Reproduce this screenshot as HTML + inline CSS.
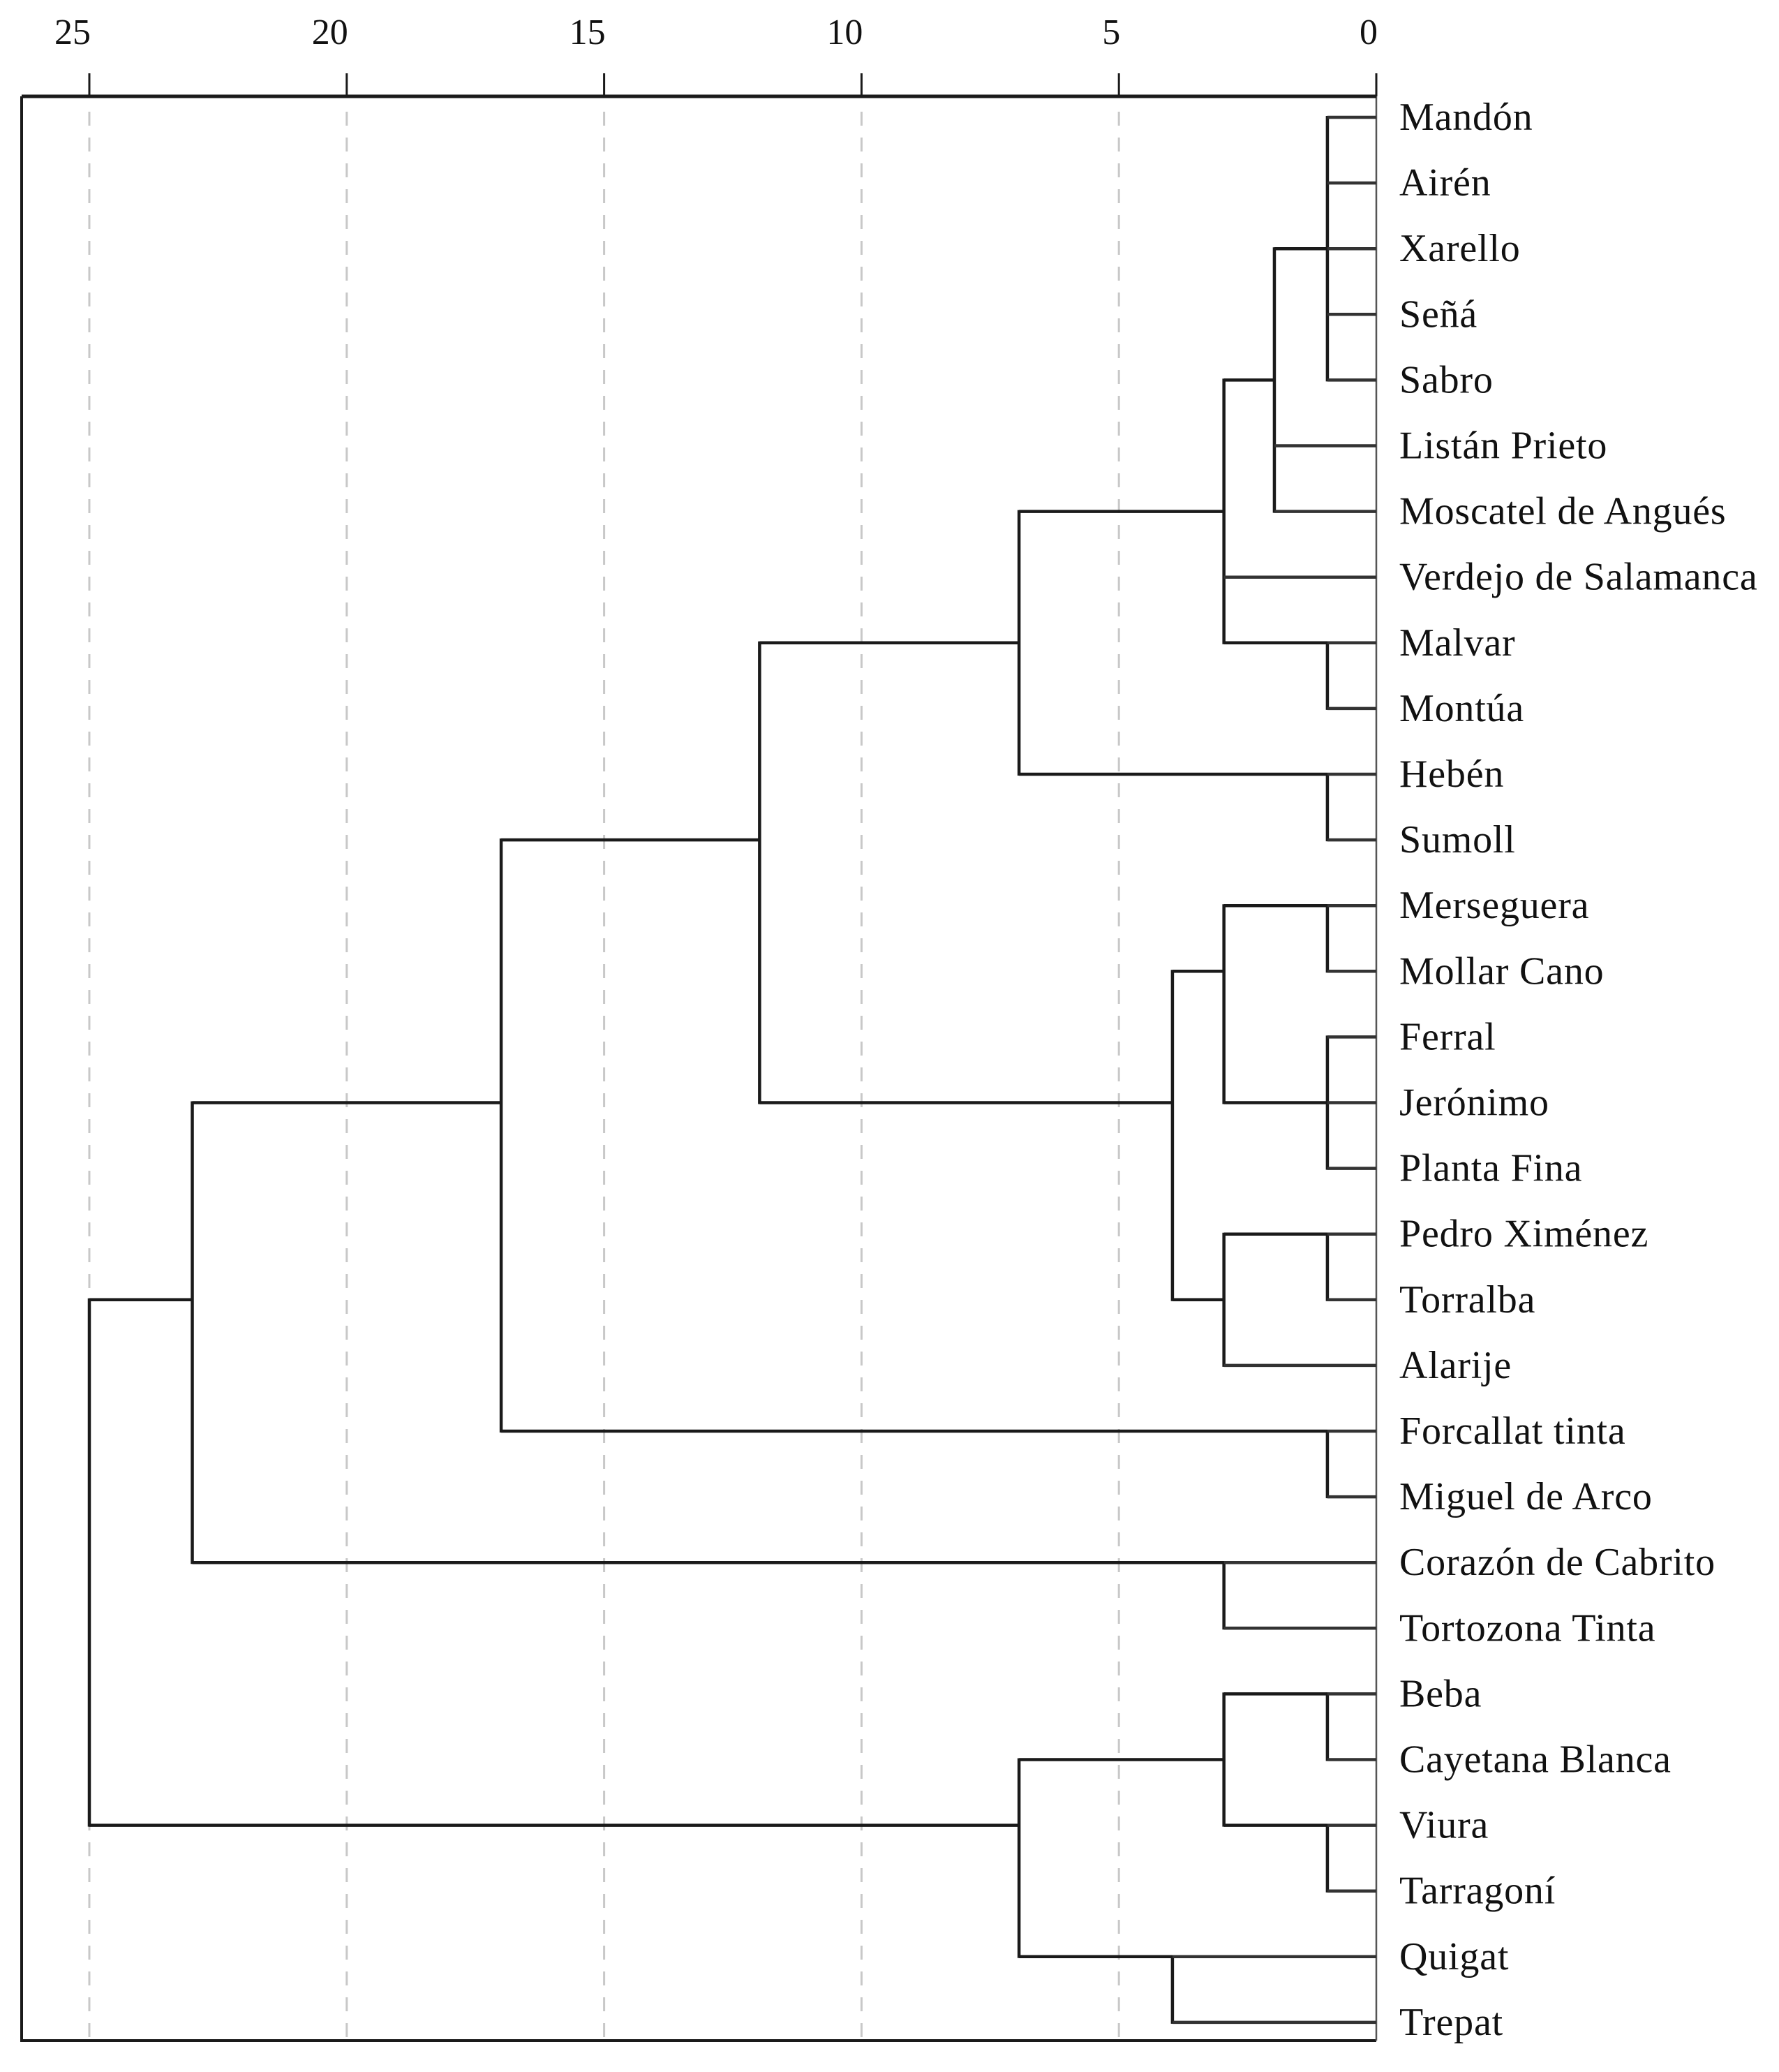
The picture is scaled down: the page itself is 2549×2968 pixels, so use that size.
<!DOCTYPE html>
<html><head><meta charset="utf-8"><style>
html,body{margin:0;padding:0;background:#fff;}
svg{display:block;}
text{font-family:"Liberation Serif",serif;fill:#111;}
</style></head><body>
<svg id="chart" width="2549" height="2968" viewBox="0 0 2549 2968" xmlns="http://www.w3.org/2000/svg"></svg>
<script>
const leaves = ["Mandón","Airén","Xarello","Señá","Sabro","Listán Prieto","Moscatel de Angués","Verdejo de Salamanca","Malvar","Montúa","Hebén","Sumoll","Merseguera","Mollar Cano","Ferral","Jerónimo","Planta Fina","Pedro Ximénez","Torralba","Alarije","Forcallat tinta","Miguel de Arco","Corazón de Cabrito","Tortozona Tinta","Beba","Cayetana Blanca","Viura","Tarragoní","Quigat","Trepat"];
const tickValues = [25,20,15,10,5,0];
// merges: children ("L#" leaf, "N#" node), height, attach row
const mergeChildren = [
 ["L0","L1","L2","L3","L4"],["N0","L5","L6"],["L8","L9"],["N1","L7","N2"],["L10","L11"],["N3","N4"],
 ["L12","L13"],["L14","L15","L16"],["N6","N7"],["L17","L18"],["N9","L19"],["N8","N10"],["N5","N11"],
 ["L20","L21"],["N12","N13"],["L22","L23"],["N14","N15"],["L24","L25"],["L26","L27"],["N17","N18"],
 ["L28","L29"],["N19","N20"],["N16","N21"]
];
const mergeHeights = [0.95,1.98,0.95,2.96,0.95,6.94,0.95,0.95,2.96,0.95,2.96,3.96,11.98,0.95,17.0,2.96,23.0,0.95,0.95,2.96,3.96,6.94,25.0];
const mergeAttach = [2,4,8,6,10,8,12,15,13,17,18,15,11,20,15,22,18,24,26,25,28,26,17];

const NS="http://www.w3.org/2000/svg";
const svg=document.getElementById('chart');
const X0=1972, UNIT=(1972-128)/25;
const xs=v=>X0-v*UNIT;
const ys=r=>168+r*94.1;
function el(tag,attrs){const e=document.createElementNS(NS,tag);for(const k in attrs)e.setAttribute(k,attrs[k]);svg.appendChild(e);return e;}

tickValues.forEach(v=>{ if(v===0) return;
  const g=el('line',{x1:xs(v),x2:xs(v),y1:160,y2:2921,stroke:'#c8c8c8','stroke-width':3,'stroke-dasharray':'20 17'});
  
  
});
let f=el('path',{d:`M31 138 L31 2923 L${X0} 2923`,fill:'none',stroke:'#1a1a1a','stroke-width':4});


let r=el('line',{x1:X0,x2:X0,y1:122,y2:2923,stroke:'#555','stroke-width':2.5});


let ax=el('line',{x1:31,x2:X0,y1:138,y2:138,stroke:'#1a1a1a','stroke-width':5});


tickValues.forEach(v=>{
  const t=el('line',{x1:xs(v),x2:xs(v),y1:105,y2:138,stroke:'#1a1a1a','stroke-width':3});
  
  
  const tx=el('text',{x:xs(v)+2,y:63,'font-size':52,'text-anchor':'end'});
  tx.textContent=v;
  
  
});
leaves.forEach((n,i)=>{
  const t=el('text',{x:2005,y:ys(i)+18,'font-size':56,'letter-spacing':0.8});
  t.textContent=n;
  
  
});
function info(id){
  if(id[0]==='L'){const i=+id.slice(1);return {h:0,y:ys(i)};}
  const k=+id.slice(1);return {h:mergeHeights[k],y:ys(mergeAttach[k])};
}
mergeChildren.forEach((ch,k)=>{
  const xn=xs(mergeHeights[k]);
  const cys=ch.map(c=>info(c).y);
  const v=el('line',{x1:xn,x2:xn,y1:Math.min(...cys)-2,y2:Math.max(...cys)+2,stroke:'#1a1a1a','stroke-width':4.5});
  
  
  ch.forEach(c=>{
    const ci=info(c);
    const isLeaf=c[0]==='L';
    const h=el('line',{x1:xn,x2:xs(ci.h),y1:ci.y,y2:ci.y,stroke:isLeaf?'#333':'#1a1a1a','stroke-width':4.5});
    
    
  });
});
</script>
</body></html>
